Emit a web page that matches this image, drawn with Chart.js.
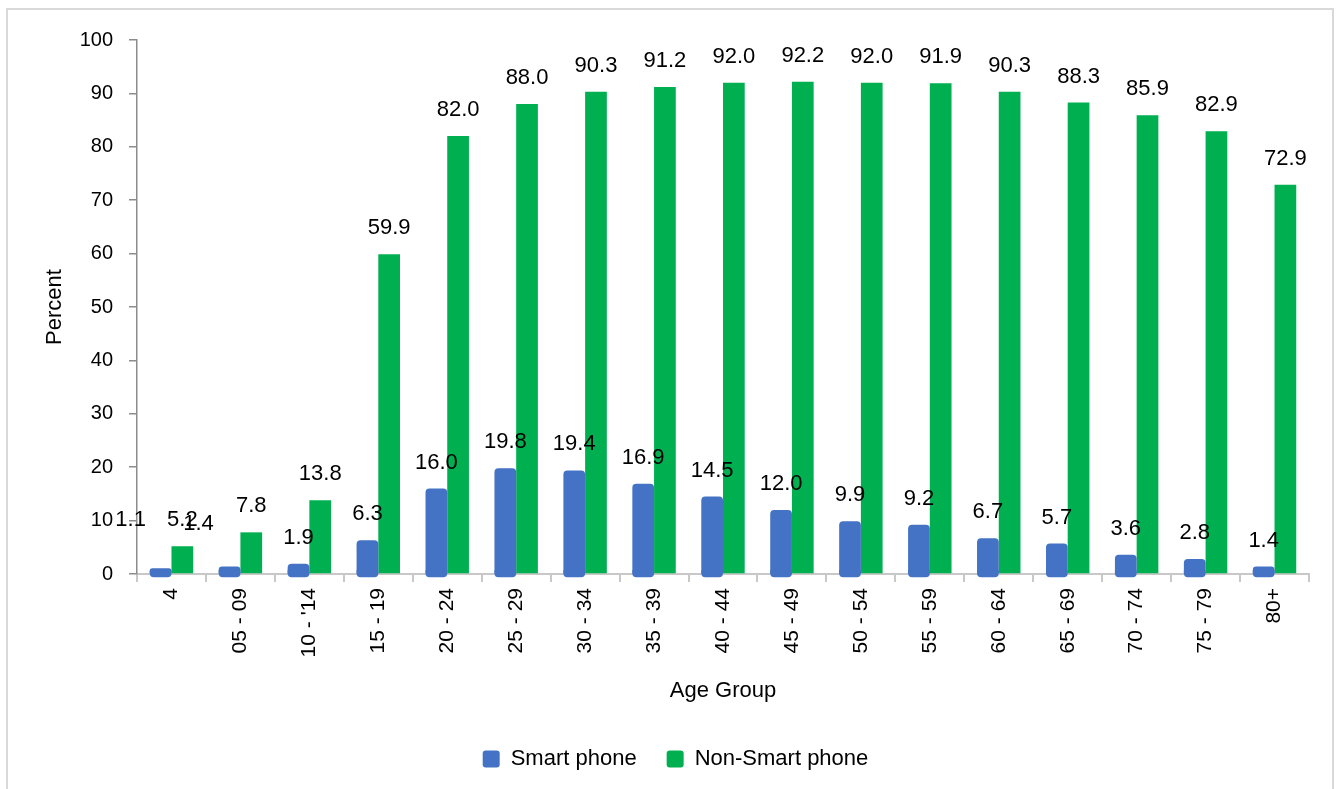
<!DOCTYPE html>
<html>

<head>
    <title>Phone Ownership by Age Group</title>
    <script src="https://cdn.jsdelivr.net/npm/chart.js"></script>
    <style>
        html, body { margin: 0; padding: 0; background: #fff; overflow: hidden; }
        #frame {
            position: absolute; left: 6px; top: 8px; width: 1328px; height: 830px;
            border: 2px solid #d9d9d9; box-sizing: border-box;
        }
        #phoneChart { position: absolute; left: 0; top: 0; }
    </style>
</head>

<body>
    <div id="frame"></div>
    <canvas id="phoneChart" width="1339" height="803"></canvas>

    <script>
        // age groups and percentages
        var ageGroups = ['4', '05 - 09', "10 - '14", '15 - 19', '20 - 24', '25 - 29', '30 - 34', '35 - 39',
            '40 - 44', '45 - 49', '50 - 54', '55 - 59', '60 - 64', '65 - 69', '70 - 74', '75 - 79', '80+'];
        var smartPhone = [1.1, 1.4, 1.9, 6.3, 16.0, 19.8, 19.4, 16.9, 14.5, 12.0, 9.9, 9.2, 6.7, 5.7, 3.6, 2.8, 1.4];
        var nonSmartPhone = [5.2, 7.8, 13.8, 59.9, 82.0, 88.0, 90.3, 91.2, 92.0, 92.2, 92.0, 91.9, 90.3, 88.3, 85.9, 82.9, 72.9];
        var yTicks = [0, 10, 20, 30, 40, 50, 60, 70, 80, 90, 100];

        var FONT = "'Liberation Sans', Arial, sans-serif";
        var BLUE = '#4472c4';
        var GREEN = '#00b050';

        // a couple of the first labels sit off their bars: [dx, dy] per dataset / index
        var labelNudge = { 0: { 0: [-30, -22], 1: [-31, -17] } };

        // value labels above each bar
        var valueLabels = {
            id: 'valueLabels',
            afterDatasetsDraw: function (chart) {
                var ctx = chart.ctx;
                ctx.save();
                ctx.font = '22px ' + FONT;
                ctx.fillStyle = '#000';
                ctx.textAlign = 'center';
                ctx.textBaseline = 'middle';
                chart.data.datasets.forEach(function (ds, di) {
                    chart.getDatasetMeta(di).data.forEach(function (bar, i) {
                        var n = (labelNudge[di] && labelNudge[di][i]) || [0, 0];
                        ctx.fillText(ds.data[i].toFixed(1), bar.x + n[0], bar.y - 26 + n[1]);
                    });
                });
                ctx.restore();
            }
        };

        // rounded foot of the blue bars just under the axis
        var blueFoot = {
            id: 'blueFoot',
            afterDatasetsDraw: function (chart) {
                var ctx = chart.ctx;
                ctx.save();
                ctx.fillStyle = BLUE;
                chart.getDatasetMeta(0).data.forEach(function (bar) {
                    var w = bar.width, x = bar.x - w / 2, y = bar.base - 3;
                    ctx.beginPath();
                    ctx.roundRect(x, y, w, 7, [0, 0, 4, 4]);
                    ctx.fill();
                });
                ctx.restore();
            }
        };

        // legend sits a little right of the canvas centre
        var legendShift = {
            id: 'legendShift',
            afterLayout: function (chart) {
                chart.legend.left += 17;
                chart.legend.right += 17;
            }
        };

        const ctx = document.getElementById('phoneChart').getContext('2d');
        new Chart(ctx, {
            type: 'bar',
            data: {
                labels: ageGroups,
                datasets: [
                    {
                        label: 'Smart phone',
                        data: smartPhone,
                        backgroundColor: BLUE,
                        borderRadius: { topLeft: 4, topRight: 4 },
                        borderSkipped: 'start'
                    },
                    {
                        label: 'Non-Smart phone',
                        data: nonSmartPhone,
                        backgroundColor: GREEN
                    }
                ]
            },
            options: {
                responsive: false,
                animation: false,
                categoryPercentage: 0.63,
                barPercentage: 1,
                layout: { padding: { top: 40, right: 30, left: 8, bottom: 23 } },
                plugins: {
                    tooltip: { enabled: false },
                    legend: {
                        position: 'bottom',
                        labels: {
                            color: '#000',
                            font: { family: FONT, size: 22 },
                            boxWidth: 17,
                            boxHeight: 17,
                            padding: 30,
                            useBorderRadius: true,
                            borderRadius: 3
                        }
                    }
                },
                scales: {
                    x: {
                        grid: { drawOnChartArea: false, color: '#c8c8c8', tickLength: 8, lineWidth: 2 },
                        border: { color: '#c8c8c8', width: 2 },
                        ticks: {
                            color: '#000',
                            font: { family: FONT, size: 21 },
                            minRotation: 90,
                            maxRotation: 90,
                            padding: 6
                        },
                        title: {
                            display: true,
                            text: 'Age Group',
                            color: '#000',
                            font: { family: FONT, size: 22 },
                            padding: { top: 0, bottom: 14 }
                        },
                        afterFit: function (scale) { scale.height = 144; }
                    },
                    y: {
                        min: 0,
                        max: 100,
                        afterBuildTicks: function (scale) {
                            scale.ticks = yTicks.map(function (v) { return { value: v }; });
                        },
                        grid: { drawOnChartArea: false, color: '#8c8c8c', tickLength: 8, lineWidth: 1.5 },
                        border: { color: '#8c8c8c', width: 1.5 },
                        ticks: {
                            color: '#000',
                            font: { family: FONT, size: 20 },
                            padding: 16
                        },
                        title: {
                            display: true,
                            text: 'Percent',
                            color: '#000',
                            font: { family: FONT, size: 22 },
                            padding: { top: 34, bottom: 0 }
                        },
                        afterFit: function (scale) { scale.width = 129; }
                    }
                }
            },
            plugins: [blueFoot, valueLabels, legendShift]
        });
    </script>
</body>

</html>
